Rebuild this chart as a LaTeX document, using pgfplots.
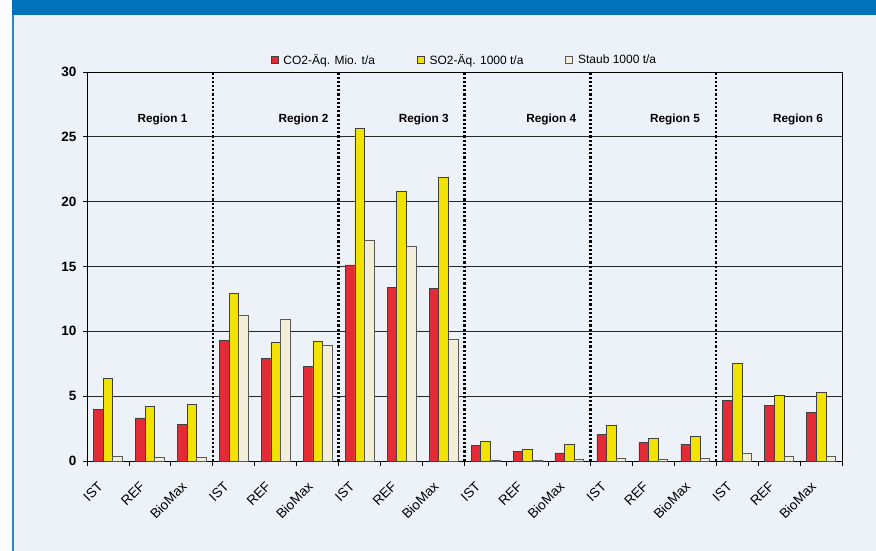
\documentclass[border=0pt]{standalone}
\usepackage{pgfplots}
\pgfplotsset{compat=1.18}
\usepackage{fontspec}
\setmainfont{Liberation Sans}
\definecolor{bg}{HTML}{EDF2F9}
\definecolor{pagebg}{HTML}{FAFBFD}
\definecolor{topblue}{HTML}{0072BC}
\definecolor{cred}{HTML}{E32B35}
\definecolor{cyel}{HTML}{F2E200}
\definecolor{cstaub}{HTML}{F3EED7}
\pgfplotsset{sqleg/.style={legend image code/.code={\draw[##1] (0pt,-3.5pt) rectangle (7pt,3.5pt);}}}

\pgfplotstableread{
x co2 so2 staub
0 4.00 6.36 0.35
1 3.32 4.22 0.28
2 2.83 4.37 0.30
3 9.27 12.94 11.20
4 7.92 9.13 10.96
5 7.28 9.21 8.93
6 15.13 25.64 17.04
7 13.41 20.80 16.55
8 13.28 21.90 9.40
9 1.18 1.53 0.08
10 0.77 0.90 0.05
11 0.62 1.26 0.13
12 2.03 2.72 0.20
13 1.44 1.75 0.13
14 1.31 1.87 0.20
15 4.69 7.52 0.59
16 4.26 5.06 0.38
17 3.77 5.28 0.38
}\datatable

\begin{document}
\begin{tikzpicture}[x=1pt,y=1pt]
\fill[pagebg] (0,0) rectangle (876,551);
\fill[bg] (12,0) rectangle (876,551);
\fill[topblue] (12,536) rectangle (876,551);
\draw[topblue!85, line width=1.5pt] (13,0) -- (13,536);
\begin{axis}[
  at={(87pt,90pt)}, anchor=south west,
  scale only axis, width=755pt, height=389pt,
  xmin=-0.5, xmax=17.5, ymin=0, ymax=30,
  ybar=0pt, bar width=9.6pt,
  xtick={0,...,17},
  xticklabels={IST,REF,BioMax,IST,REF,BioMax,IST,REF,BioMax,IST,REF,BioMax,IST,REF,BioMax,IST,REF,BioMax},
  minor xtick={-0.5,0.5,...,17.5},
  ytick={0,5,...,30},
  ymajorgrids, grid style={black!85, line width=0.8pt},
  axis line style={black, line width=0.9pt},
  tick align=outside, tick pos=left,
  major x tick style={draw=none},
  minor x tick style={black, line width=0.8pt},
  minor tick length=5pt,
  major tick length=4pt,
  y tick style={black, line width=0.8pt},
  /pgf/number format/assume math mode=true,
  y tick label style={font=\bfseries\fontsize{13.5}{15}\selectfont, xshift=-3pt},
  x tick label style={font=\fontsize{13.5}{15}\selectfont, xshift=-5pt, yshift=-17pt, rotate=45, anchor=east},
  extra x ticks={2.5,5.5,8.5,11.5,14.5},
  extra x tick labels={},
  extra x tick style={xmajorgrids=true, major tick length=0pt,
     major grid style={black, line width=2.6pt, dash pattern=on 2.2pt off 2pt}},
  legend style={at={(0.5,1)}, anchor=south, yshift=2pt, draw=none, fill=none,
     legend columns=3, font=\fontsize{12}{13}\selectfont,
     /tikz/every odd column/.append style={column sep=3pt},
     /tikz/every even column/.append style={column sep=40pt}},
  clip=false,
]
\addplot[fill=cred, draw=black!75, line width=0.6pt, sqleg]
  table[x=x, y=co2] {\datatable};
\addplot[fill=cyel, draw=black!75, line width=0.6pt, sqleg]
  table[x=x, y=so2] {\datatable};
\addplot[fill=cstaub, draw=black!65, line width=0.6pt, sqleg]
  table[x=x, y=staub] {\datatable};
\legend{CO2-Äq. Mio. t/a, SO2-Äq. 1000 t/a, Staub 1000 t/a}
\begin{scope}[every node/.style={font=\bfseries\fontsize{11.8}{13}\selectfont}]
\node at (axis cs:1.30,26.3) {Region 1};
\node at (axis cs:4.66,26.3) {Region 2};
\node at (axis cs:7.53,26.3) {Region 3};
\node at (axis cs:10.57,26.3) {Region 4};
\node at (axis cs:13.52,26.3) {Region 5};
\node at (axis cs:16.45,26.3) {Region 6};
\end{scope}
\end{axis}
\pgfresetboundingbox
\path (0,0) rectangle (876,551);
\end{tikzpicture}
\end{document}
